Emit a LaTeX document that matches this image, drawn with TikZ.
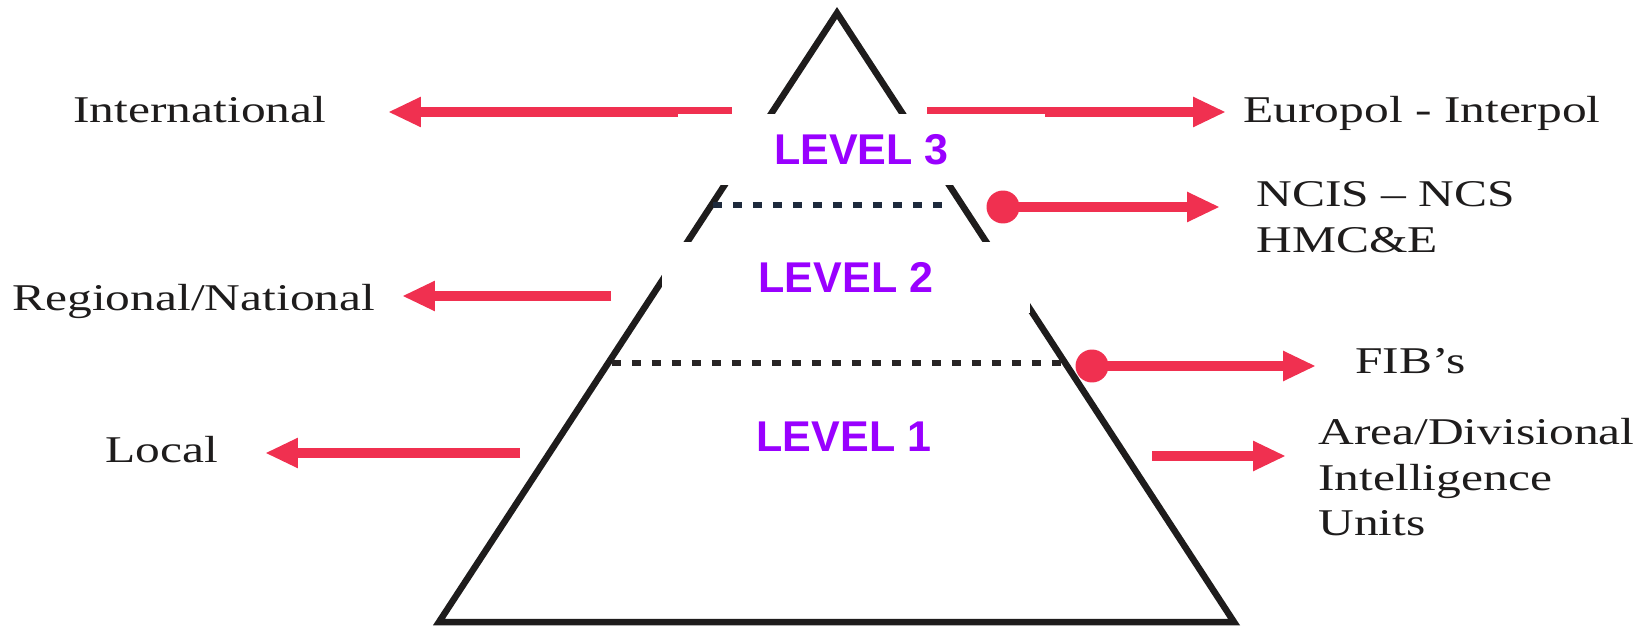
\documentclass[tikz,border=0pt]{standalone}
\usepackage{fontspec}
\setmainfont{Liberation Serif}
\newfontfamily\lblfont[FakeStretch=1.31]{Liberation Serif}
\newfontfamily\lvlfont{Liberation Sans}
\usetikzlibrary{arrows.meta}
\definecolor{arrowred}{RGB}{240,48,80}
\definecolor{lvlpurple}{RGB}{153,0,255}
\definecolor{dotnavy}{RGB}{30,42,60}
\definecolor{dotdark}{RGB}{40,36,36}
\definecolor{inkblack}{RGB}{30,28,28}
\begin{document}
\begin{tikzpicture}[x=0.02cm,y=-0.02cm,
  edge/.style={line width=0.13cm, line join=miter, draw=inkblack},
  redarrow/.style={line width=0.2cm, draw=arrowred, -{Triangle[length=0.66cm,width=0.56cm]}},
  reddot/.style={circle, fill=arrowred, inner sep=0pt, minimum size=0.66cm},
  levelsep/.style={line width=0.13cm, dash pattern=on 0.18cm off 0.22cm},
  txt/.style={font=\lblfont\fontsize{21.5}{26}\selectfont, inner sep=0pt, text=inkblack, align=left},
  lvl/.style={fill=white, minimum width=7.36cm, minimum height=1.42cm, inner sep=0pt, text=lvlpurple, font=\lvlfont\bfseries\fontsize{24.5}{28}\selectfont}
]
\useasboundingbox (0,0) rectangle (1647,628);
\fill[white] (0,0) rectangle (1647,628);

% pyramid
\coordinate (apex) at (837,13);
\coordinate (bl) at (439,622);
\coordinate (br) at (1234,622);
\draw[edge] (apex) -- (bl) -- (br) -- cycle;

% level separators
\coordinate (d3l) at (713,205);
\coordinate (d3r) at (948,205);
\coordinate (d2l) at (612,363);
\coordinate (d2r) at (1064,363);
\draw[levelsep, draw=dotnavy] (d3l) -- (d3r);
\draw[levelsep, draw=dotdark] (d2l) -- (d2r);

% arrow end points
\coordinate (intS) at (732,112);
\coordinate (intT) at (388,112);
\coordinate (eurS) at (927,112);
\coordinate (eurT) at (1226,112);
\coordinate (regS) at (611,296);
\coordinate (regT) at (402,296);
\coordinate (locS) at (520,453);
\coordinate (locT) at (265,453);
\coordinate (areaS) at (1152,456);
\coordinate (areaT) at (1286,456);
\coordinate (ncisT) at (1220,207);
\coordinate (fibT) at (1316,366);

\draw[redarrow] (intS) -- (intT);
\draw[redarrow] (eurS) -- (eurT);
\draw[redarrow] (regS) -- (regT);
\draw[redarrow] (locS) -- (locT);
\draw[redarrow] (areaS) -- (areaT);
\node[reddot] (ncisdot) at (1003,207) {};
\node[reddot] (fibdot) at (1092,366) {};
\draw[redarrow] (ncisdot.center) -- (ncisT);
\draw[redarrow] (fibdot.center) -- (fibT);

% level labels (white boxes)
\node[lvl] (lvl3) at (861.5,149.5) {LEVEL 3};
\node[lvl] (lvl2) at (846,277.5) {LEVEL 2};
\node[lvl] (lvl1) at (844,437) {LEVEL 1};

% side texts
\node[txt, anchor=base west] (intl) at (73,123) {International};
\node[txt, anchor=base west] (europol) at (1243,123) {Europol - Interpol};
\node[txt, anchor=north west] (ncis) at (1256,181) {NCIS – NCS\\HMC\&E};
\node[txt, anchor=base west] (regional) at (12,311) {Regional/National};
\node[txt, anchor=base west] (fib) at (1355,374) {FIB’s};
\node[txt, anchor=base west] (local) at (105,462) {Local};
\node[txt, anchor=north west] (area) at (1318,418) {Area/Divisional\\Intelligence\\Units};
\end{tikzpicture}
\end{document}
